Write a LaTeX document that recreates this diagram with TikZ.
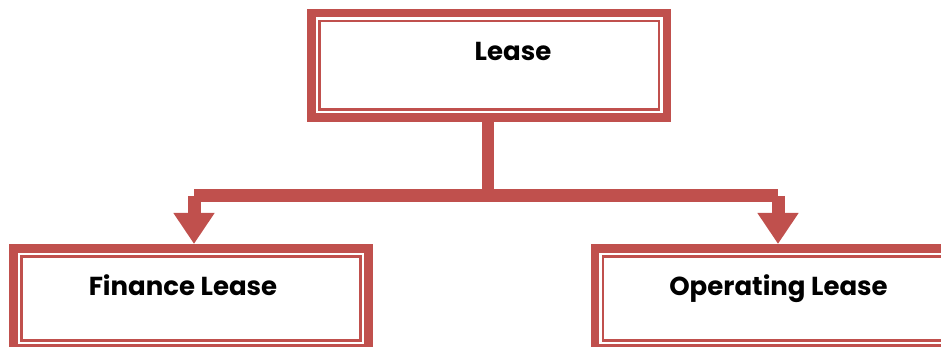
\documentclass[tikz,border=0pt]{standalone}
\usepackage{fontspec}
\setmainfont{Poppins}
\usetikzlibrary{arrows.meta}
\definecolor{lred}{HTML}{C0504D}
\tikzset{
  band/.style={draw=lred, line width=8.5pt, rectangle, inner sep=0pt, fill=white},
  innerline/.style={draw=lred, line width=2.5pt},
  lbl/.style={font=\fontsize{26}{30}\selectfont\bfseries, text=black, inner sep=0pt, anchor=base},
  conn/.style={draw=lred, line width=13pt, line cap=butt},
  tip/.style={-{Triangle[width=39pt,length=31pt]}}
}
\begin{document}
\begin{tikzpicture}[x=1pt,y=-1pt]
\useasboundingbox (0,0) rectangle (941,347);
\clip (0,0) rectangle (941,347);
% boxes
\node[band, minimum width=355.5pt, minimum height=104.5pt] (top) at (489,65.5) {};
\node[band, minimum width=355pt, minimum height=100pt] (fin) at (190.75,298.25) {};
\node[band, minimum width=364.75pt, minimum height=100pt] (op) at (777.6,298.25) {};
\draw[innerline] (top.north west) ++(12.25,12.25) rectangle ([xshift=-12.25pt,yshift=12.25pt]top.south east);
\draw[innerline] (fin.north west) ++(12.25,12.25) rectangle ([xshift=-12.25pt,yshift=12.25pt]fin.south east);
\draw[innerline] (op.north west) ++(12.25,12.25) rectangle ([xshift=-12.25pt,yshift=12.25pt]op.south east);
% labels
\node[lbl] (tl) at (513,61) {Lease};
\node[lbl] (fl) at (183,295) {Finance Lease};
\node[lbl] (ol) at (778.5,295) {Operating Lease};
% connectors
\coordinate (jn) at (488,196);
\coordinate (lj) at (194,196);
\coordinate (rj) at (778,196);
\draw[conn, line width=12.5pt] (jn |- top.south) -- (jn);
\draw[conn] (lj) -- (rj);
\draw[conn, tip] (lj) -- (lj |- fin.north);
\draw[conn, tip] (rj) -- (rj |- op.north);
\end{tikzpicture}
\end{document}
